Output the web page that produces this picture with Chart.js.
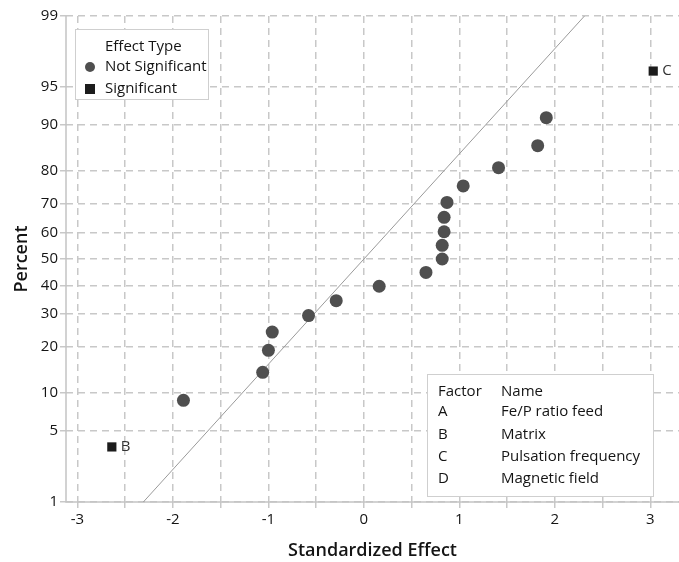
<!DOCTYPE html>
<html>
<head>
<meta charset="utf-8">
<script src="https://cdn.jsdelivr.net/npm/chart.js@4/dist/chart.umd.min.js"></script>
<style>
  html, body { margin: 0; padding: 0; background: #fff; }
  #wrap { width: 679px; height: 562px; position: relative; }
</style>
</head>
<body>
<div id="wrap"><canvas id="myChart"></canvas></div>
<script>
// effects (standardized effect, percent)
const notSigEffect = [-1.89, -1.06, -1.00, -0.96, -0.58, -0.29, 0.16, 0.65, 0.82, 0.82, 0.84, 0.84, 0.87, 1.04, 1.41, 1.82, 1.91];
const notSigPercent = [8.8, 13.9, 19.1, 24.2, 29.4, 34.5, 39.7, 44.9, 50.0, 55.2, 60.3, 65.5, 70.6, 75.8, 80.9, 86.1, 91.2];
const sigEffect = [-2.64, 3.03];
const sigPercent = [3.6, 96.4];
const sigLabels = ['B', 'C'];
const refLineEffect = [-2.31, 2.31];
const refLinePercent = [1, 99];
const yTickLabels = [1, 5, 10, 20, 30, 40, 50, 60, 70, 80, 90, 95, 99];
const xTickValues = [-3, -2.5, -2, -1.5, -1, -0.5, 0, 0.5, 1, 1.5, 2, 2.5, 3];
const factorCodes = ['A', 'B', 'C', 'D'];
const factorNames = ['Fe/P ratio feed', 'Matrix', 'Pulsation frequency', 'Magnetic field'];

// normal quantile (probability scale of the y axis)
function probit(p) {
  const a = [-3.969683028665376e+01, 2.209460984245205e+02, -2.759285104469687e+02, 1.383577518672690e+02, -3.066479806614716e+01, 2.506628277459239e+00];
  const b = [-5.447609879822406e+01, 1.615858368580409e+02, -1.556989798598866e+02, 6.680131188771972e+01, -1.328068155288572e+01];
  const c = [-7.784894002430293e-03, -3.223964580411365e-01, -2.400758277161838e+00, -2.549732539343734e+00, 4.374664141464968e+00, 2.938163982698783e+00];
  const d = [7.784695709041462e-03, 3.224671290700398e-01, 2.445134137142996e+00, 3.754408661907416e+00];
  const pl = 0.02425;
  let q, r;
  if (p < pl) {
    q = Math.sqrt(-2 * Math.log(p));
    return (((((c[0]*q+c[1])*q+c[2])*q+c[3])*q+c[4])*q+c[5]) / ((((d[0]*q+d[1])*q+d[2])*q+d[3])*q+1);
  }
  if (p <= 1 - pl) {
    q = p - 0.5; r = q * q;
    return (((((a[0]*r+a[1])*r+a[2])*r+a[3])*r+a[4])*r+a[5])*q / (((((b[0]*r+b[1])*r+b[2])*r+b[3])*r+b[4])*r+1);
  }
  q = Math.sqrt(-2 * Math.log(1 - p));
  return -(((((c[0]*q+c[1])*q+c[2])*q+c[3])*q+c[4])*q+c[5]) / ((((d[0]*q+d[1])*q+d[2])*q+d[3])*q+1);
}

const toPts = (xs, ps) => xs.map((x, i) => ({ x: x, y: probit(ps[i] / 100) }));

const FONT = "'Open Sans', 'DejaVu Sans', sans-serif";
const gridColor = '#c8c8c8';
const textColor = '#141414';

const overlay = {
  id: 'overlay',
  beforeDatasetsDraw(chart) {
    // solid axis lines on the left and bottom
    const ctx = chart.ctx, ca = chart.chartArea;
    ctx.save();
    ctx.strokeStyle = '#c4c4c4';
    ctx.lineWidth = 1.5;
    ctx.setLineDash([]);
    ctx.beginPath();
    ctx.moveTo(ca.left, ca.top);
    ctx.lineTo(ca.left, ca.bottom);
    ctx.lineTo(ca.right, ca.bottom);
    ctx.stroke();
    ctx.restore();
  },
  afterDatasetsDraw(chart) {
    const ctx = chart.ctx;
    const xs = chart.scales.x, ys = chart.scales.y;
    ctx.save();
    ctx.fillStyle = '#333';
    ctx.font = '15px ' + FONT;
    ctx.textBaseline = 'middle';
    ctx.textAlign = 'left';
    sigEffect.forEach((v, i) => {
      ctx.fillText(sigLabels[i], xs.getPixelForValue(v) + 9, ys.getPixelForValue(probit(sigPercent[i] / 100)));
    });
    ctx.restore();
  },
  afterDraw(chart) {
    const ctx = chart.ctx;
    const ca = chart.chartArea;
    ctx.save();
    ctx.lineWidth = 1;
    ctx.strokeStyle = '#cfcfcf';
    ctx.fillStyle = '#fff';

    // effect type legend
    let bx = ca.left + 9, by = ca.top + 13;
    ctx.fillRect(bx, by, 133, 70);
    ctx.strokeRect(bx + 0.5, by + 0.5, 133, 70);
    ctx.fillStyle = textColor;
    ctx.font = '15px ' + FONT;
    ctx.textBaseline = 'middle';
    ctx.textAlign = 'left';
    ctx.fillText('Effect Type', bx + 30, by + 18);
    ctx.fillText('Not Significant', bx + 30, by + 38);
    ctx.fillText('Significant', bx + 30, by + 60);
    ctx.fillStyle = '#4f4f4f';
    ctx.beginPath();
    ctx.arc(bx + 15, by + 38, 5, 0, Math.PI * 2);
    ctx.fill();
    ctx.fillStyle = '#1c1c1c';
    ctx.fillRect(bx + 10, by + 55, 10, 10);

    // factor table
    bx = 427; by = 374;
    ctx.fillStyle = '#fff';
    ctx.fillRect(bx, by, 226, 122);
    ctx.strokeRect(bx + 0.5, by + 0.5, 226, 122);
    ctx.fillStyle = textColor;
    ctx.fillText('Factor', bx + 11, by + 18);
    ctx.fillText('Name', bx + 74, by + 18);
    factorCodes.forEach((f, i) => {
      const yy = by + 38 + i * 22.3;
      ctx.fillText(f, bx + 11, yy);
      ctx.fillText(factorNames[i], bx + 74, yy);
    });
    ctx.restore();
  }
};

const gridOpts = {
  color: gridColor,
  lineWidth: 1.5,
  borderDash: [7, 5],
  tickLength: 6,
  tickBorderDash: [],
  tickColor: gridColor
};

const ctx = document.getElementById('myChart');
new Chart(ctx, {
  type: 'scatter',
  data: {
    datasets: [
      {
        label: 'Reference',
        data: toPts(refLineEffect, refLinePercent),
        showLine: true,
        borderColor: '#9a9a9a',
        borderWidth: 1,
        pointRadius: 0,
        order: 3
      },
      {
        label: 'Not Significant',
        data: toPts(notSigEffect, notSigPercent),
        pointStyle: 'circle',
        pointRadius: 6.5,
        backgroundColor: '#4f4f4f',
        borderColor: '#4f4f4f',
        borderWidth: 0,
        order: 2
      },
      {
        label: 'Significant',
        data: toPts(sigEffect, sigPercent),
        pointStyle: 'rect',
        pointRadius: 6.5,
        backgroundColor: '#1c1c1c',
        borderColor: '#1c1c1c',
        borderWidth: 0,
        order: 1
      }
    ]
  },
  options: {
    responsive: true,
    maintainAspectRatio: false,
    animation: false,
    layout: { autoPadding: false, padding: { top: 16, right: 0, left: 0, bottom: 0 } },
    plugins: {
      legend: { display: false },
      tooltip: { enabled: false }
    },
    scales: {
      x: {
        type: 'linear',
        min: -3.12,
        max: 3.30,
        afterBuildTicks: (scale) => { scale.ticks = xTickValues.map(v => ({ value: v })); },
        afterFit: (scale) => {
          scale.height = 60;
          scale.paddingLeft = 0;
          scale.paddingRight = 0;
        },
        ticks: {
          autoSkip: false,
          maxRotation: 0,
          padding: 3,
          color: textColor,
          font: { family: FONT, size: 15 },
          callback: (v) => Number.isInteger(v) ? String(v) : ''
        },
        grid: gridOpts,
        border: { display: false, dash: [7, 5] },
        title: {
          display: true,
          text: 'Standardized Effect',
          color: textColor,
          font: { family: FONT, size: 18, weight: '600' },
          padding: { top: 0, bottom: 0 }
        }
      },
      y: {
        type: 'linear',
        min: probit(0.01),
        max: probit(0.99),
        afterBuildTicks: (scale) => { scale.ticks = yTickLabels.map(p => ({ value: probit(p / 100) })); },
        afterFit: (scale) => {
          scale.width = 66;
          scale.paddingTop = 0;
          scale.paddingBottom = 0;
        },
        ticks: {
          autoSkip: false,
          padding: 2,
          color: textColor,
          font: { family: FONT, size: 15 },
          callback: (v, i) => String(yTickLabels[i])
        },
        grid: gridOpts,
        border: { display: false, dash: [7, 5] },
        title: {
          display: true,
          text: 'Percent',
          color: textColor,
          font: { family: FONT, size: 18, weight: '600' },
          padding: { top: 11, bottom: 0 }
        }
      }
    }
  },
  plugins: [overlay]
});
</script>
</body>
</html>
